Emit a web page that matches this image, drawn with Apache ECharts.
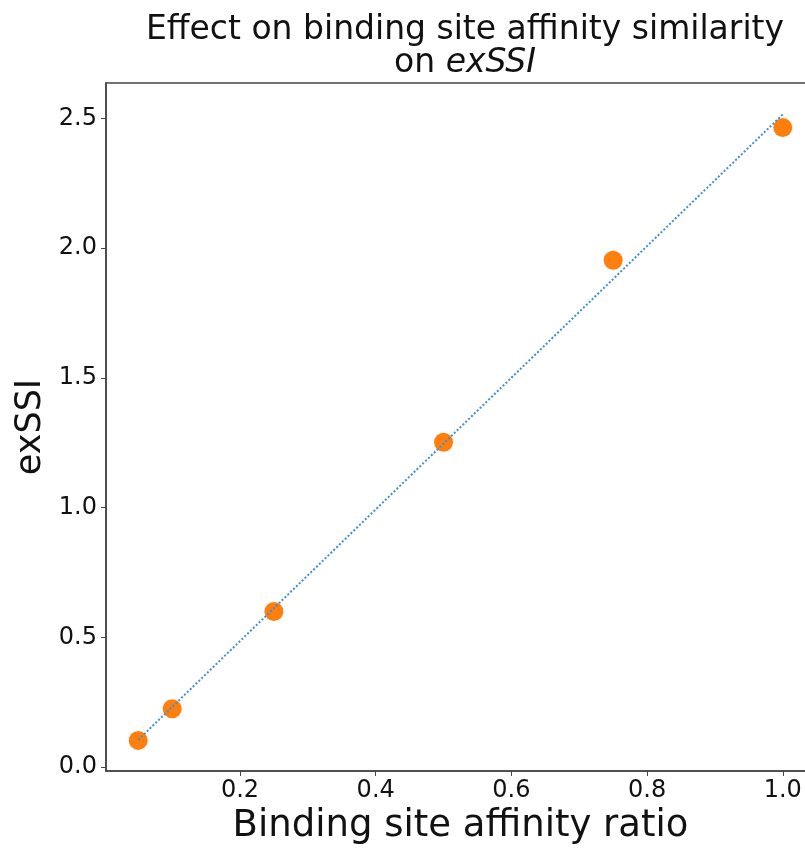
<!DOCTYPE html>
<html>
<head>
<meta charset="utf-8">
<script src="https://cdn.jsdelivr.net/npm/echarts@6/dist/echarts.min.js"></script>
<style>
  html, body { margin: 0; padding: 0; background: #fff; }
  #main { width: 805px; height: 848px; }
</style>
</head>
<body>
<div id="main"></div>
<script>
// measured points
var ratio = [0.05, 0.1, 0.25, 0.5, 0.75, 1.0];
var exssi = [0.103, 0.225, 0.600, 1.252, 1.954, 2.465];
// fitted line end points
var fitX = [0.05, 1.0];
var fitY = [0.105, 2.516];
// tick labels
var xTicks = [0.2, 0.4, 0.6, 0.8, 1.0];
var yTicks = [0.0, 0.5, 1.0, 1.5, 2.0, 2.5];

var chart = echarts.init(document.getElementById('main'));

var pts = ratio.map(function (x, i) { return [x, exssi[i]]; });
var fit = fitX.map(function (x, i) { return [x, fitY[i]]; });

var font = 'DejaVu Sans';

chart.setOption({
    animation: false,
    backgroundColor: '#fff',
    title: {
        text: 'Effect on binding site affinity similarity\non {i|exSSI}',
        left: 460,
        textAlign: 'center',
        top: 9,
        textStyle: {
            fontFamily: font,
            fontSize: 33,
            fontWeight: 'normal',
            color: '#111',
            lineHeight: 33,
            rich: {
                i: { fontFamily: font, fontSize: 33, fontStyle: 'italic', color: '#111', lineHeight: 33 }
            }
        }
    },
    grid: {
        left: 106, top: 83, width: 709, height: 688,
        outerBoundsMode: 'none', containLabel: false,
        show: true, borderColor: '#444', borderWidth: 1.5, backgroundColor: 'transparent'
    },
    xAxis: {
        type: 'value',
        min: 0.0025,
        max: 1.0475,
        name: 'Binding site affinity ratio',
        nameLocation: 'middle',
        nameGap: 35,
        nameTextStyle: { fontFamily: font, fontSize: 37, color: '#111' },
        axisLine: { onZero: false, lineStyle: { color: '#444', width: 1.5 } },
        axisTick: { show: true, customValues: xTicks, length: 5, lineStyle: { color: '#444' } },
        axisLabel: {
            customValues: xTicks,
            fontFamily: font, fontSize: 24, color: '#111', margin: 8,
            formatter: function (v) { return v.toFixed(1); }
        },
        splitLine: { show: false }
    },
    yAxis: {
        type: 'value',
        min: -0.015,
        max: 2.637,
        name: 'exSSI',
        nameLocation: 'middle',
        nameGap: 58,
        nameTextStyle: { fontFamily: font, fontSize: 35, color: '#111' },
        axisLine: { show: true, onZero: false, lineStyle: { color: '#444', width: 1.5 } },
        axisTick: { show: true, customValues: yTicks, length: 5, lineStyle: { color: '#444' } },
        axisLabel: {
            customValues: yTicks,
            fontFamily: font, fontSize: 24, color: '#111', margin: 9,
            formatter: function (v) { return v.toFixed(1); }
        },
        splitLine: { show: false }
    },
    series: [
        {
            type: 'line',
            data: fit,
            symbol: 'none',
            lineStyle: { type: 'dotted', color: '#3f8fd2', width: 2 },
            z: 3
        },
        {
            type: 'scatter',
            data: pts,
            symbolSize: 19,
            itemStyle: { color: '#ff7f0e', opacity: 1 },
            z: 2
        }
    ]
});
</script>
</body>
</html>
